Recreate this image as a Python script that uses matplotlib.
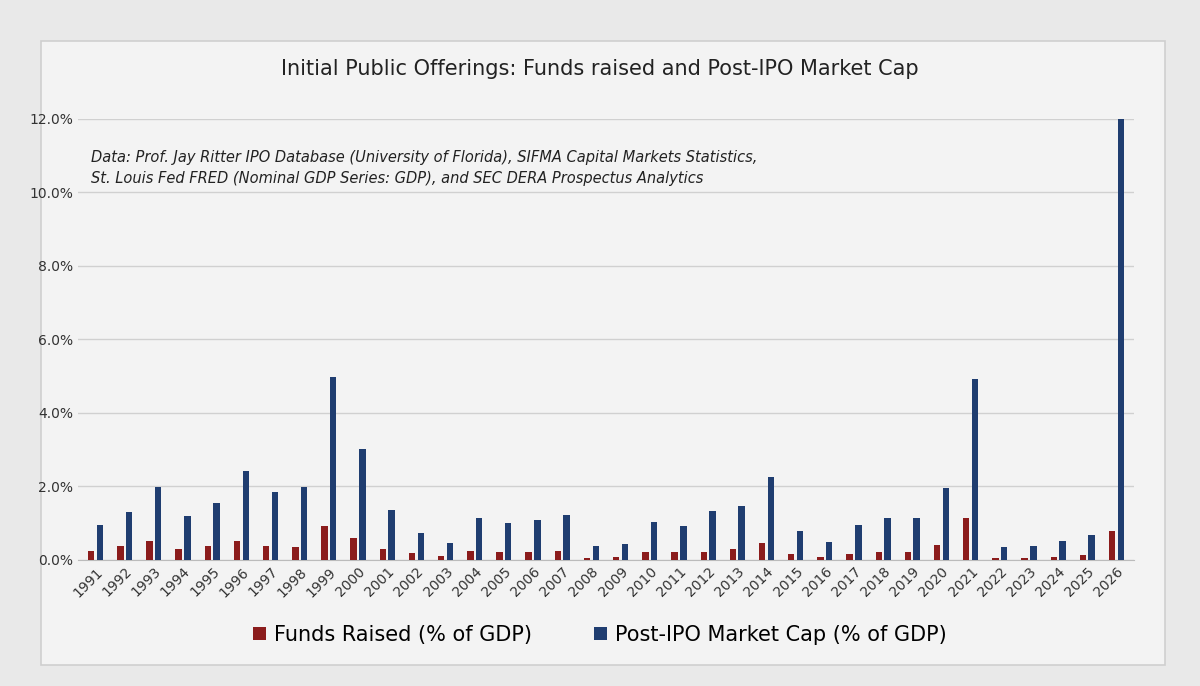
import numpy as np
import matplotlib.pyplot as plt
from matplotlib.patches import Rectangle

years = [str(y) for y in range(1991, 2027)]
funds_raised = [0.25, 0.38, 0.52, 0.28, 0.37, 0.52, 0.38, 0.35, 0.93, 0.60,
                0.30, 0.18, 0.10, 0.25, 0.22, 0.22, 0.25, 0.05, 0.08, 0.22,
                0.20, 0.20, 0.28, 0.45, 0.15, 0.08, 0.15, 0.22, 0.20, 0.40,
                1.15, 0.05, 0.05, 0.08, 0.12, 0.77]
market_cap = [0.95, 1.30, 1.97, 1.18, 1.55, 2.42, 1.85, 1.97, 4.97, 3.02,
              1.35, 0.73, 0.45, 1.13, 1.00, 1.07, 1.22, 0.37, 0.42, 1.03,
              0.92, 1.33, 1.47, 2.25, 0.77, 0.48, 0.95, 1.13, 1.13, 1.95,
              4.92, 0.35, 0.37, 0.50, 0.68, 12.10]

fig = plt.figure(figsize=(12, 6.86), dpi=100, facecolor='#e9e9e9')
fig.patches.append(Rectangle((0.034, 0.03), 0.937, 0.91, transform=fig.transFigure,
                             facecolor='#f3f3f3', edgecolor='#cfcfcf', lw=1.2, zorder=-5))
ax = fig.add_axes([0.065, 0.184, 0.88, 0.643], zorder=2)
ax.set_facecolor('none')

x = np.arange(len(years))
w = 0.22
ax.bar(x - 0.15, funds_raised, w, color='#8b1c1c', label='Funds Raised (% of GDP)', zorder=3)
ax.bar(x + 0.15, market_cap, w, color='#1f3d70', label='Post-IPO Market Cap (% of GDP)', zorder=3)

ax.set_ylim(0, 12)
ax.set_xlim(-0.6, len(years) - 0.4)
ax.set_yticks(np.arange(0, 13, 2))
ax.set_yticklabels([f'{v:.1f}%' for v in np.arange(0, 13, 2)], fontsize=10, color='#333333')
ax.set_xticks(x)
ax.set_xticklabels(years, rotation=45, ha='right', rotation_mode='anchor', fontsize=10, color='#333333')
ax.grid(axis='y', color='#d0d0d0', lw=1, zorder=0)
ax.tick_params(length=0)
for s in ['top', 'right', 'left']:
    ax.spines[s].set_visible(False)
ax.spines['bottom'].set_color('#bbbbbb')

fig.text(0.5, 0.9, 'Initial Public Offerings: Funds raised and Post-IPO Market Cap',
         ha='center', va='center', fontsize=15, color='#222222')
ax.text(0.012, 0.93, 'Data: Prof. Jay Ritter IPO Database (University of Florida), SIFMA Capital Markets Statistics,\n'
        'St. Louis Fed FRED (Nominal GDP Series: GDP), and SEC DERA Prospectus Analytics',
        transform=ax.transAxes, ha='left', va='top', fontsize=10.5, style='italic',
        color='#222222', linespacing=1.5)

fig.legend(loc='center', bbox_to_anchor=(0.5, 0.075), ncol=2, frameon=False,
           fontsize=15, handlelength=0.6, handleheight=0.6, columnspacing=3, handletextpad=0.4)

fig.savefig('out.png', dpi=100, facecolor=fig.get_facecolor())
